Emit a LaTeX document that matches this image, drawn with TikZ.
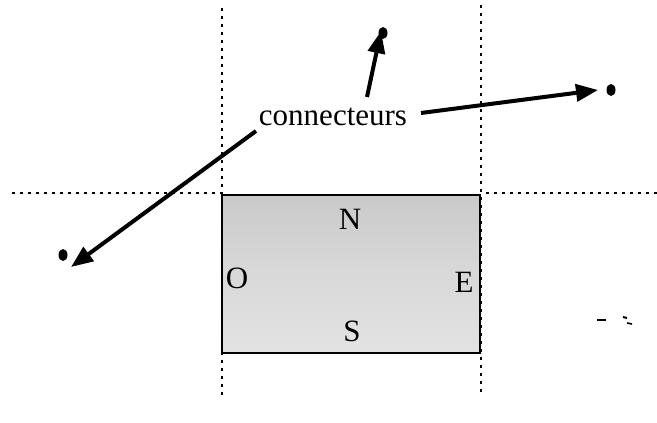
\documentclass[tikz,border=0pt]{standalone}
\usepackage{fontspec}
\setmainfont{Liberation Serif}
\usetikzlibrary{arrows.meta,shapes.geometric}
\begin{document}
\begin{tikzpicture}[x=1pt,y=-1pt,
  guide/.style={line width=2pt,dash pattern=on 2.5pt off 5.5pt},
  conn/.style={line width=4pt,-{Triangle[length=22pt,width=17pt]}},
  blob/.style={ellipse,fill=black,minimum width=9pt,minimum height=12pt,inner sep=0pt},
  lbl/.style={font=\fontsize{31}{31}\selectfont,inner sep=0pt}]
\useasboundingbox (0,0) rectangle (657,423);
% shaded box
\shade[top color=gray!42,bottom color=gray!22,middle color=gray!30] (222,195) rectangle (480,353);
\draw[line width=2.8pt] (222,195) rectangle (480,353);
% guide lines
\draw[guide] (222,8) -- (222,395);
\draw[guide] (481,5) -- (481,395);
\draw[guide] (12,193) -- (222,193);
\draw[guide] (486,193) -- (657,193);
% labels
\node[lbl] (N) at (350,219) {N};
\node[lbl] (O) at (237,278) {O};
\node[lbl] (E) at (464,282) {E};
\node[lbl] (S) at (352,331) {S};
% connectors
\node[lbl] (c) at (333,117) {connecteurs};
\node[blob] (d1) at (383,33) {};
\node[blob] (d2) at (611,90) {};
\node[blob] (d3) at (63,255) {};
\coordinate (a1) at (367,97);
\coordinate (a2) at (421,113);
\coordinate (a3) at (256,131);
\draw[conn] (a1) -- ([xshift=-2pt,yshift=8pt]d1.south);
\draw[conn] (a2) -- ([xshift=-13pt]d2.center);
\draw[conn] (a3) -- ([xshift=8pt,yshift=-12pt]d3.center);
% small marks
\draw[line width=2.2pt] (597,320) -- (606,320);
\draw[line width=2pt] (623,317) -- (627,318);
\draw[line width=1.6pt] (627,323) -- (632,324);
\end{tikzpicture}
\end{document}
